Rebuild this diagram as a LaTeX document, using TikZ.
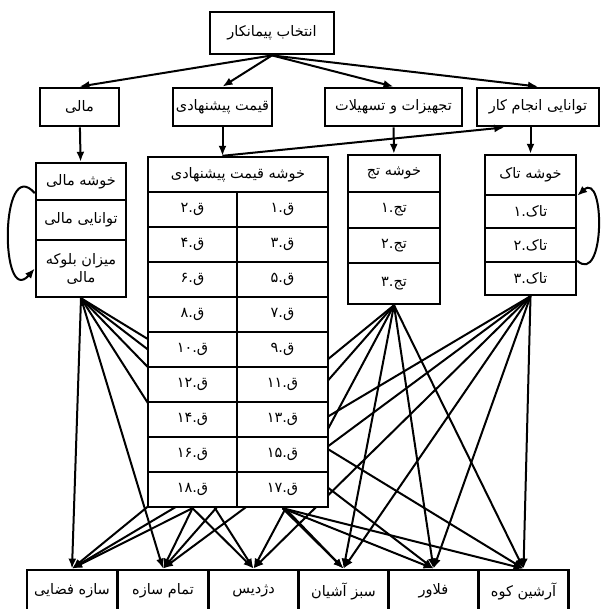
\documentclass[tikz,border=0pt]{standalone}
\usepackage{fontspec}
\newfontfamily\persian[Script=Arabic]{DejaVu Sans}
\TeXXeTstate=1
\usetikzlibrary{arrows.meta,calc}
\pgfdeclarelayer{back}
\pgfsetlayers{back,main}
\newcommand{\fatxt}[1]{\beginR #1\endR} % Persian text, right to left.

\begin{document}
\begin{tikzpicture}[x=1pt,y=-1pt,
  box/.style={draw,line width=2.8pt,fill=white,inner sep=2pt,
    font=\persian\fontsize{14.5}{18}\selectfont},
  cell/.style={box,line width=2.4pt,minimum height=35pt},
  arr/.style={-{Latex[length=10pt,width=8pt]},line width=2pt}]
\useasboundingbox (0,0) rectangle (602,609);

% goal and criteria
\node[box,minimum width=124pt,minimum height=42pt] (goal) at (272,33) {\fatxt{انتخاب پیمانکار}};
\node[box,minimum width=79pt,minimum height=38pt] (mali) at (79.5,107) {\fatxt{مالی}};
\node[box,minimum width=99pt,minimum height=38pt] (qimat) at (222.5,107) {\fatxt{قیمت پیشنهادی}};
\node[box,minimum width=137pt,minimum height=38pt] (tajhiz) at (393.5,107) {\fatxt{تجهیزات و تسهیلات}};
\node[box,minimum width=122pt,minimum height=38pt] (tavan) at (538,107) {\fatxt{توانایی انجام کار}};

% clusters
\node[cell,minimum width=90pt,minimum height=37pt] (m0) at (81,181.5) {\fatxt{خوشه مالی}};
\node[cell,minimum width=90pt,minimum height=40pt] (m1) at (81,220) {\fatxt{توانایی مالی}};
\node[cell,minimum width=90pt,minimum height=57pt,align=center] (m2) at (81,268.5)
  {\fatxt{میزان بلوکه}\\\fatxt{مالی}};

\node[cell,minimum width=180pt] (q0) at (238,174.5) {\fatxt{خوشه قیمت پیشنهادی}};
\foreach \r/\od/\ev in {1/۱/۲,2/۳/۴,3/۵/۶,4/۷/۸,5/۹/۱۰,6/۱۱/۱۲,7/۱۳/۱۴,8/۱۵/۱۶,9/۱۷/۱۸} {
  \node[cell,minimum width=91pt] (qr\r) at (282.5,174.5+35*\r) {\fatxt{ق.\od}};
  \node[cell,minimum width=89pt] (ql\r) at (192.5,174.5+35*\r) {\fatxt{ق.\ev}};
}

\node[cell,minimum width=92pt,minimum height=37pt] (t0) at (394,173.5) {\fatxt{خوشه تج}};
\node[cell,minimum width=92pt,minimum height=36pt] (t1) at (394,210) {\fatxt{تج.۱}};
\node[cell,minimum width=92pt,minimum height=35pt] (t2) at (394,245.5) {\fatxt{تج.۲}};
\node[cell,minimum width=92pt,minimum height=41pt] (t3) at (394,283.5) {\fatxt{تج.۳}};

\node[cell,minimum width=91pt,minimum height=40pt] (k0) at (530.5,175) {\fatxt{خوشه تاک}};
\node[cell,minimum width=91pt,minimum height=33pt] (k1) at (530.5,211.5) {\fatxt{تاک.۱}};
\node[cell,minimum width=91pt,minimum height=34pt] (k2) at (530.5,245) {\fatxt{تاک.۲}};
\node[cell,minimum width=91pt,minimum height=33pt] (k3) at (530.5,278.5) {\fatxt{تاک.۳}};

% alternatives
\foreach \i/\x/\lbl in {1/72/سازه فضایی,2/163/تمام سازه,3/253.5/دژدیس,
    4/343.5/سبز آشیان,5/433.5/فلاور,6/523.5/آرشین کوه}
  \node[box,minimum width=90pt,minimum height=42pt] (b\i) at (\x,591) {\fatxt{\lbl}};

% goal to criteria to clusters
\foreach \c in {mali,qimat,tajhiz,tavan}
  \draw[arr] (goal.south) -- (\c.north);
\coordinate (qin) at (qimat.south |- q0.north);
\draw[arr] (mali) -- (m0);
\draw[arr] (qimat.south) -- (qin);
\draw[arr] (tajhiz) -- (t0);
\draw[arr] (k0.north |- tavan.south) -- (k0.north);
\draw[arr] (qin) -- ($(tavan.south west)!0.23!(tavan.south east)$);

% inner dependence loops
\draw[arr] (m0.south west) ++(0,-8) .. controls +(-35,-40) and +(-35,40) .. (m2.west);
\draw[arr] (k3.north east) .. controls +(28,25) and +(28,-25) .. ($(k1.north east)+(0,2)$);

% clusters to alternatives
\begin{pgfonlayer}{back}
\foreach \s in {m2,t3,k3}
  \foreach \d in {1,...,6}
    \draw[arr] (\s.south) -- (b\d.north);
\foreach \d in {1,2,3}
  \draw[arr] (ql9.south) -- (b\d.north);
\foreach \d in {4,5,6}
  \draw[arr] (qr9.south) -- (b\d.north);
\end{pgfonlayer}
\end{tikzpicture}
\end{document}
